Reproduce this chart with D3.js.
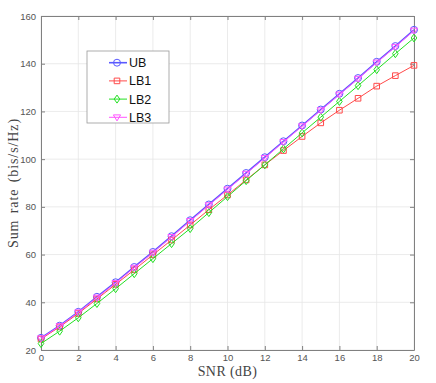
<!DOCTYPE html>
<html>
<head>
<meta charset="utf-8">
<script src="https://cdn.jsdelivr.net/npm/d3@7"></script>
<style>
  body { margin: 0; background: #fff; }
  svg { display: block; }
</style>
</head>
<body>
<div id="chart-container"></div>
<script>
// SNR values (dB)
const snr = [0, 1, 2, 3, 4, 5, 6, 7, 8, 9, 10, 11, 12, 13, 14, 15, 16, 17, 18, 19, 20];
const ub  = [25.1, 30.2, 36.0, 42.3, 48.4, 54.8, 61.1, 67.7, 74.4, 81.0, 87.6, 94.2, 100.8, 107.5, 114.1, 120.8, 127.4, 134.0, 140.8, 147.4, 154.2];
const lb1 = [24.6, 29.7, 35.3, 41.4, 47.5, 53.6, 59.9, 66.1, 72.4, 78.8, 85.0, 91.3, 97.6, 103.6, 109.5, 115.2, 120.5, 125.5, 130.6, 135.0, 139.3];
const lb2 = [22.7, 27.9, 33.5, 39.5, 45.7, 52.0, 58.3, 64.6, 70.9, 77.6, 84.3, 91.0, 97.6, 104.3, 111.0, 117.6, 124.2, 130.8, 137.5, 144.2, 150.8];
const lb3 = [24.9, 30.0, 35.8, 42.0, 48.1, 54.5, 60.8, 67.4, 74.1, 80.7, 87.3, 93.9, 100.5, 107.2, 113.8, 120.5, 127.1, 133.7, 140.5, 147.1, 153.9];
const xTicks = [0, 2, 4, 6, 8, 10, 12, 14, 16, 18, 20];
const yTicks = [20, 40, 60, 80, 100, 120, 140, 160];

let margin = { top: 16, right: 22, bottom: 33, left: 41 };
let width = 436 - margin.left - margin.right;
let height = 383 - margin.top - margin.bottom;

var svg = d3
  .select("#chart-container")
  .append("svg")
  .attr("width", 436)
  .attr("height", 383)
  .append("g")
  .attr("transform", "translate(" + margin.left + "," + margin.top + ")");

let xScale = d3.scaleLinear().domain([0, 20]).range([0, width]);
let yScale = d3.scaleLinear().domain([20, 160]).range([height, 0]);

// grid
svg.append("g")
  .selectAll("line")
  .data(xTicks)
  .enter()
  .append("line")
  .attr("x1", (d) => xScale(d))
  .attr("x2", (d) => xScale(d))
  .attr("y1", 0)
  .attr("y2", height)
  .style("stroke", "#e6e6e6")
  .style("stroke-width", 0.8);

svg.append("g")
  .selectAll("line")
  .data(yTicks)
  .enter()
  .append("line")
  .attr("x1", 0)
  .attr("x2", width)
  .attr("y1", (d) => yScale(d))
  .attr("y2", (d) => yScale(d))
  .style("stroke", "#e6e6e6")
  .style("stroke-width", 0.8);

// axes (ticks inward, box on)
function styleAxis(g) {
  g.select(".domain").style("stroke", "#808080");
  g.selectAll(".tick line").style("stroke", "#808080");
  g.selectAll(".tick text")
    .style("fill", "#555")
    .style("font-family", "Liberation Sans, Arial, sans-serif")
    .style("font-size", "9.5px");
}

svg.append("g")
  .attr("transform", "translate(0," + height + ")")
  .call(d3.axisBottom(xScale).tickValues(xTicks).tickSizeInner(-4).tickSizeOuter(0).tickPadding(4))
  .call(styleAxis);

svg.append("g")
  .call(d3.axisTop(xScale).tickValues(xTicks).tickSizeInner(-4).tickSizeOuter(0).tickFormat(""))
  .call(styleAxis);

svg.append("g")
  .call(d3.axisLeft(yScale).tickValues(yTicks).tickSizeInner(-4).tickSizeOuter(0).tickPadding(5))
  .call(styleAxis);

svg.append("g")
  .attr("transform", "translate(" + width + ",0)")
  .call(d3.axisRight(yScale).tickValues(yTicks).tickSizeInner(-4).tickSizeOuter(0).tickFormat(""))
  .call(styleAxis);

// series
let series = [
  { name: "UB", values: ub, color: "#5a5aff", marker: "circle", lw: 1.6 },
  { name: "LB1", values: lb1, color: "#ff4a4a", marker: "square", lw: 1 },
  { name: "LB2", values: lb2, color: "#22e022", marker: "diamond", lw: 1 },
  { name: "LB3", values: lb3, color: "#ff55ff", marker: "triangle", lw: 1 },
];

function markerPath(type) {
  if (type === "circle") return d3.symbol().type(d3.symbolCircle).size(38)();
  if (type === "square") return "M-2.8,-2.8H2.8V2.8H-2.8Z";
  if (type === "diamond") return "M0,-4L2.8,0L0,4L-2.8,0Z";
  return "M-3.6,-2.4H3.6L0,3.6Z";
}

let line = d3.line()
  .x((d, i) => xScale(snr[i]))
  .y((d) => yScale(d));

series.forEach((s) => {
  svg.append("path")
    .datum(s.values)
    .attr("d", line)
    .style("fill", "none")
    .style("stroke", s.color)
    .style("stroke-width", s.lw);

  svg.append("g")
    .selectAll("path")
    .data(s.values)
    .enter()
    .append("path")
    .attr("transform", (d, i) => "translate(" + xScale(snr[i]) + "," + yScale(d) + ")")
    .attr("d", markerPath(s.marker))
    .style("fill", "none")
    .style("stroke", s.color)
    .style("stroke-width", 1);
});

// axis labels
svg.append("text")
  .attr("x", width / 2)
  .attr("y", height + 26)
  .style("text-anchor", "middle")
  .style("font-family", "Liberation Serif, Times New Roman, serif")
  .style("font-size", "14px")
  .style("letter-spacing", "0.4px")
  .style("fill", "#444")
  .text("SNR (dB)");

svg.append("text")
  .attr("transform", "rotate(-90)")
  .attr("x", -height / 2)
  .attr("y", -23)
  .style("text-anchor", "middle")
  .style("font-family", "Liberation Serif, Times New Roman, serif")
  .style("font-size", "14px")
  .style("letter-spacing", "0.9px")
  .style("word-spacing", "2px")
  .style("fill", "#444")
  .text("Sum rate (bis/s/Hz)");

// legend
let legend = svg.append("g").attr("transform", "translate(46,35)");

legend.append("rect")
  .attr("width", 82)
  .attr("height", 72)
  .style("fill", "#fff")
  .style("stroke", "#999")
  .style("stroke-width", 0.8);

let item = legend
  .selectAll(".legend-label")
  .data(series)
  .enter()
  .append("g")
  .attr("class", "legend-label")
  .attr("transform", (d, i) => "translate(0," + (11.7 + i * 18.2) + ")");

item.append("line")
  .attr("x1", 22)
  .attr("x2", 40)
  .style("stroke", (d) => d.color)
  .style("stroke-width", (d) => d.lw);

item.append("path")
  .attr("transform", "translate(30,0)")
  .attr("d", (d) => markerPath(d.marker))
  .style("fill", "none")
  .style("stroke", (d) => d.color);

item.append("text")
  .attr("x", 42)
  .attr("dy", "0.36em")
  .style("font-family", "Liberation Sans, Arial, sans-serif")
  .style("font-size", "12.5px")
  .style("fill", "#111")
  .text((d) => d.name);
</script>
</body>
</html>
